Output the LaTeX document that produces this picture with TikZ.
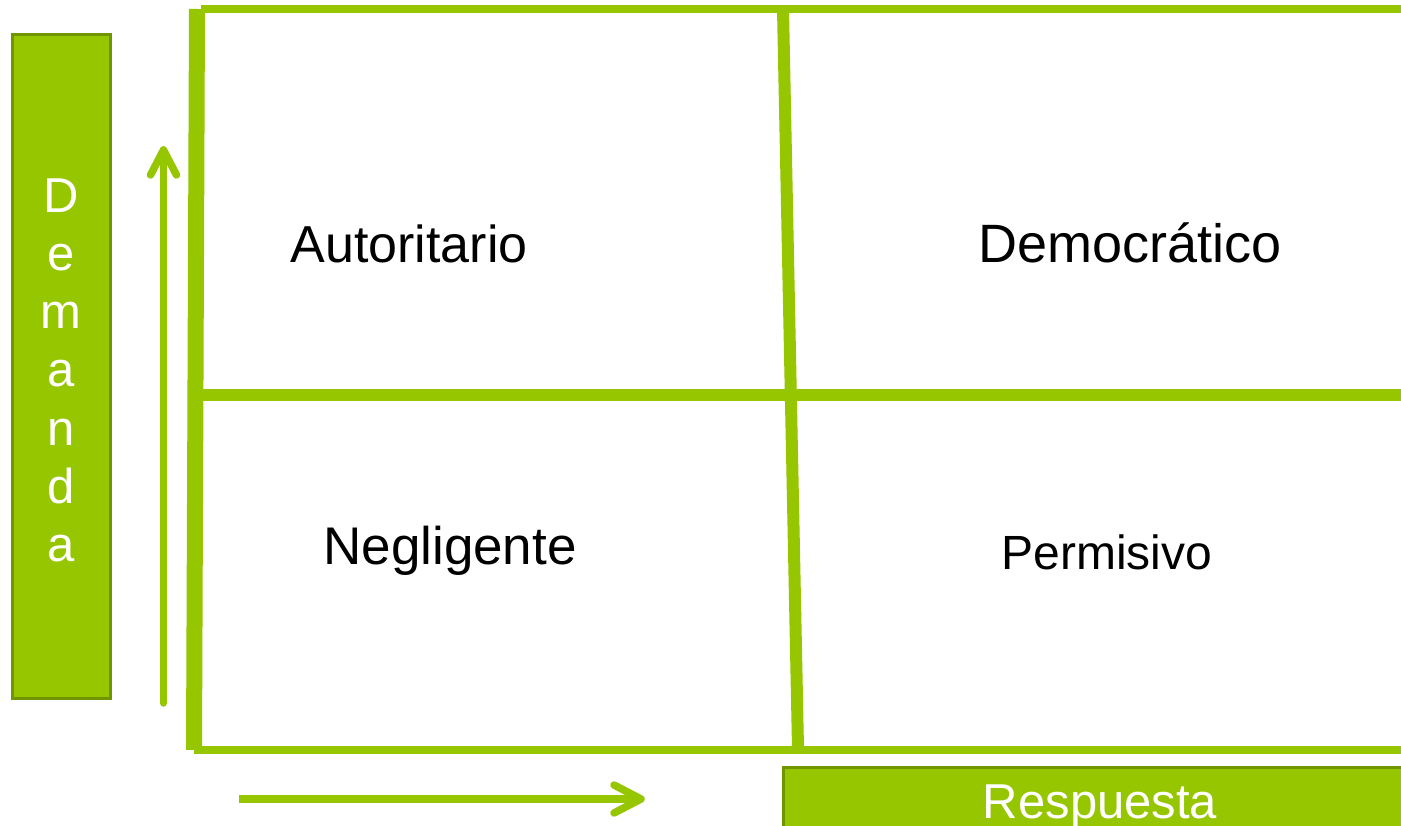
\documentclass[tikz,border=0pt]{standalone}
\usepackage{fontspec}
\setmainfont{Liberation Sans}
\definecolor{lime}{HTML}{95C600}
\definecolor{limedark}{HTML}{6F9600}
\begin{document}
\begin{tikzpicture}[x=1pt,y=-1pt,
  gridline/.style={draw=lime,line cap=butt},
  axisline/.style={draw=lime,line width=7.5pt,line cap=round,line join=round},
  greenbox/.style={draw=limedark,fill=lime,line width=3pt,inner sep=0pt,rectangle},
  celltext/.style={anchor=base,text=black,inner sep=0pt},
  whitetext/.style={anchor=base,text=white,inner sep=0pt,font=\fontsize{49}{58}\selectfont}]
\useasboundingbox (0,0) rectangle (1401,826);
\fill[white] (0,0) rectangle (1401,826);

% left label box
\node[greenbox,minimum width=98pt,minimum height=664pt] (dembox) at (61.5,366.5) {};
\foreach \l [count=\i from 0] in {D,e,m,a,n,d,a}
  \node[whitetext] (dem\i) at (61,213+58*\i) {\l};

% bottom label box
\node[greenbox,minimum width=640pt,minimum height=76pt] (resbox) at (1103.5,805.5) {};
\node[whitetext] (restext) at (1100,818) {Respuesta};

% grid
\coordinate (lt) at (197,9);
\coordinate (lb) at (194,750);
\coordinate (tl) at (201,9);
\coordinate (tr) at (1415,9);
\coordinate (mt) at (783,9);
\coordinate (mb) at (798,748);
\coordinate (hl) at (203,395);
\coordinate (hr) at (1415,395);
\coordinate (bl) at (194,750);
\coordinate (br) at (1415,750);
\draw[gridline,line width=16pt] (lt) -- (lb);
\draw[gridline,line width=8pt] (tl) -- (tr);
\draw[gridline,line width=12pt] (mt) -- (mb);
\draw[gridline,line width=12pt] (hl) -- (hr);
\draw[gridline,line width=8pt] (bl) -- (br);

% vertical axis arrow
\coordinate (va) at (163.5,703);
\coordinate (vb) at (163.5,150);
\coordinate (vl) at (150.5,175);
\coordinate (vr) at (176.5,175);
\draw[axisline] (va) -- (vb);
\draw[axisline] (vl) -- (vb) -- (vr);

% horizontal axis arrow
\coordinate (ha) at (239,799);
\coordinate (hb) at (641,799);
\coordinate (hu) at (614,785);
\coordinate (hd) at (614,813);
\draw[axisline,line cap=butt] (ha) -- (hb);
\draw[axisline] (hu) -- (hb) -- (hd);

% cell labels
\node[celltext,font=\fontsize{52}{60}\selectfont] (aut) at (409,263) {Autoritario};
\node[celltext,font=\fontsize{54}{60}\selectfont] (dem) at (1130,263) {Democrático};
\node[celltext,font=\fontsize{53}{60}\selectfont] (neg) at (450,564) {Negligente};
\node[celltext,font=\fontsize{48}{60}\selectfont] (per) at (1107,569) {Permisivo};
\end{tikzpicture}
\end{document}
